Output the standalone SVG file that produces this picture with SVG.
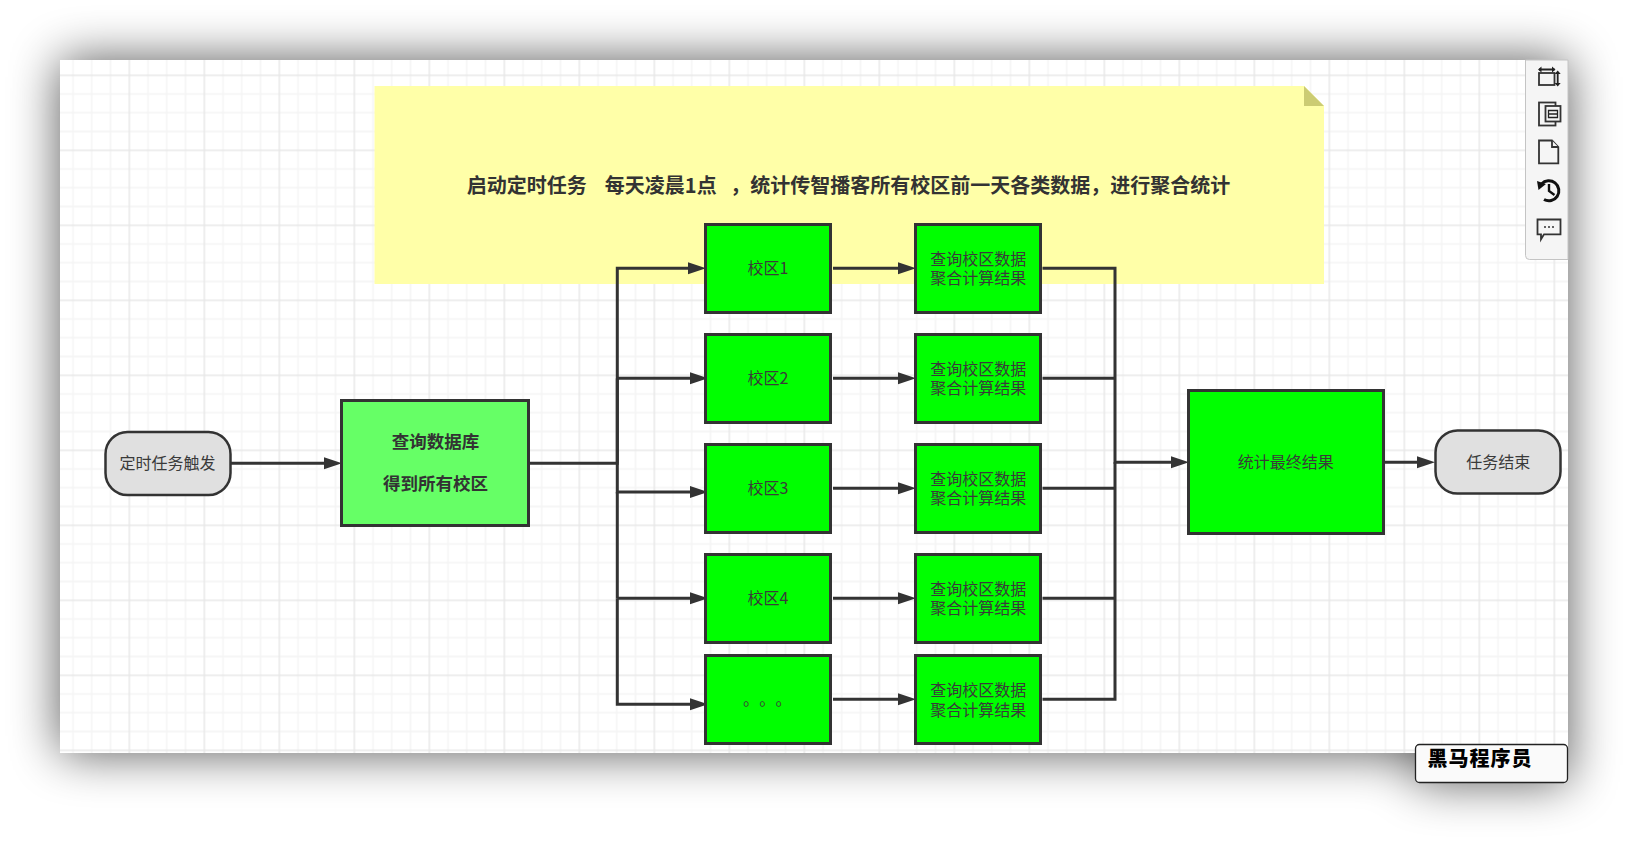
<svg xmlns="http://www.w3.org/2000/svg" width="1628" height="843" viewBox="0 0 1628 843">
<style>
text{font-family:"Noto Sans CJK SC","Liberation Sans",sans-serif;fill:#3a3a3a;text-anchor:middle;dominant-baseline:central;font-size:16px}
.b{font-weight:700;fill:#333}
.box{stroke:#333;stroke-width:3;fill:#0f0}
.term{stroke:#333;stroke-width:2.5;fill:#e0e0e0}
.cn{fill:none;stroke:#333;stroke-width:3;marker-end:url(#ah)}
.ln{fill:none;stroke:#333;stroke-width:3}
.ic{fill:#f5f5f5;stroke:#333;stroke-width:1.8}
</style>
<defs>
<filter id="blur" filterUnits="userSpaceOnUse" x="0" y="0" width="1628" height="843"><feGaussianBlur stdDeviation="25"/></filter>
<marker id="ah" markerUnits="userSpaceOnUse" markerWidth="19" markerHeight="14" refX="11" refY="7" orient="auto"><path d="M0,1L18,7L0,13z" fill="#333"/></marker>
<pattern id="grid" patternUnits="userSpaceOnUse" x="128.5" y="74.5" width="75" height="75">
<g stroke="#f4f4f4" stroke-width="1.5"><path d="M19.55,0V75M38.3,0V75M57.05,0V75M0,19.55H75M0,38.3H75M0,57.05H75"/></g>
<g stroke="#e8e8e8" stroke-width="1.5"><path d="M.8,0V75M0,.8H75"/></g>
</pattern>
</defs>
<rect width="1628" height="843" fill="#fff"/>
<g id="shadow" filter="url(#blur)" opacity=".66"><rect x="60" y="60" width="1508" height="693"/><rect x="1415" y="744" width="153" height="38"/></g>
<rect id="canvas" x="60" y="60" width="1508" height="693" fill="#fff"/>
<rect x="60" y="60" width="1508" height="693" fill="url(#grid)"/>
<g id="note">
<path d="M374.5,86H1304L1324,106V284H374.5z" fill="#ffffa8"/>
<path d="M1304,86L1324,106H1304z" fill="#cccc73"/>
<text class="b" x="848.5" y="184" style="font-size:20px;white-space:pre" xml:space="preserve">启动定时任务    每天凌晨1点   ，统计传智播客所有校区前一天各类数据，进行聚合统计</text>
</g>
<g id="connectors">
<path class="cn" d="M231,463.3H335"/>
<path class="cn" d="M530,463.3H617.3V268.3H699"/>
<path class="ln" d="M617.3,463.3V378.3"/>
<path class="cn" d="M617.3,378.3H701"/>
<path class="cn" d="M617.3,463.3V492H701"/>
<path class="ln" d="M617.3,492V598.3"/>
<path class="cn" d="M617.3,598.3H701"/>
<path class="cn" d="M617.3,598.3V704.3H701"/>
<path class="cn" d="M833,268.3H909"/>
<path class="cn" d="M833,378.3H909"/>
<path class="cn" d="M833,488.3H909"/>
<path class="cn" d="M833,598.3H909"/>
<path class="cn" d="M833,699.3H909"/>
<path class="cn" d="M1042.5,268.3H1115V462.3H1182"/>
<path class="ln" d="M1042.5,378.3H1115"/>
<path class="ln" d="M1042.5,488.3H1115"/>
<path class="ln" d="M1042.5,598.3H1115"/>
<path class="ln" d="M1042.5,699.3H1115V462.3"/>
<path class="cn" d="M1385,462.3H1428"/>
</g>
<g id="start"><rect class="term" x="105.5" y="432" width="125" height="63" rx="22"/><text x="167.5" y="461.5">定时任务触发</text></g>
<g id="query"><rect class="box" x="341.5" y="400.5" width="187" height="125" style="fill:#66ff66"/><text class="b" x="435.5" y="440" style="font-size:17.5px">查询数据库</text><text class="b" x="435.5" y="482.5" style="font-size:17.5px">得到所有校区</text></g>
<g id="campus1"><rect class="box" x="705.5" y="224.5" width="125" height="88"/><text x="768" y="266.5">校区1</text></g>
<g id="campus2"><rect class="box" x="705.5" y="334.5" width="125" height="88"/><text x="768" y="376.5">校区2</text></g>
<g id="campus3"><rect class="box" x="705.5" y="444.5" width="125" height="88"/><text x="768" y="486.5">校区3</text></g>
<g id="campus4"><rect class="box" x="705.5" y="554.5" width="125" height="88"/><text x="768" y="596.5">校区4</text></g>
<g id="campus5"><rect class="box" x="705.5" y="655.5" width="125" height="88"/><text x="743 759.2 775.4" y="697.5" style="text-anchor:start">。。。</text></g>
<g id="calc1"><rect class="box" x="915.5" y="224.5" width="125" height="88"/><text><tspan x="978.3" y="257.5">查询校区数据</tspan><tspan x="978.3" y="277">聚合计算结果</tspan></text></g>
<g id="calc2"><rect class="box" x="915.5" y="334.5" width="125" height="88"/><text><tspan x="978.3" y="367.5">查询校区数据</tspan><tspan x="978.3" y="387">聚合计算结果</tspan></text></g>
<g id="calc3"><rect class="box" x="915.5" y="444.5" width="125" height="88"/><text><tspan x="978.3" y="477.5">查询校区数据</tspan><tspan x="978.3" y="497">聚合计算结果</tspan></text></g>
<g id="calc4"><rect class="box" x="915.5" y="554.5" width="125" height="88"/><text><tspan x="978.3" y="587.5">查询校区数据</tspan><tspan x="978.3" y="607">聚合计算结果</tspan></text></g>
<g id="calc5"><rect class="box" x="915.5" y="655.5" width="125" height="88"/><text><tspan x="978.3" y="689">查询校区数据</tspan><tspan x="978.3" y="709">聚合计算结果</tspan></text></g>
<g id="final"><rect class="box" x="1188.5" y="390.5" width="195" height="143"/><text x="1285.8" y="460.5">统计最终结果</text></g>
<g id="end"><rect class="term" x="1435.5" y="430.5" width="125" height="63" rx="22"/><text x="1498.3" y="460.5">任务结束</text></g>
<g id="toolbar">
<path d="M1525.5,60V255.5Q1525.5,259.5 1529.5,259.5H1568V60z" fill="#f5f5f5" stroke="#c4c4c4"/>
<g id="icon-resize"><rect class="ic" x="1539" y="73" width="15.5" height="12"/><path d="M1539,69.5H1554.5M1557.7,72V85" fill="none" stroke="#222" stroke-width="1.8"/><path d="M1538,69.5l3.5,-3v6zM1555.5,69.5l-3.5,-3v6zM1557.7,70.5l-3,3.5h6zM1557.7,86.5l-3,-3.5h6z" fill="#222"/></g>
<g id="icon-pages"><rect class="ic" x="1539" y="102.5" width="16.5" height="23"/><rect class="ic" x="1545.5" y="106" width="15" height="15.5"/><path d="M1548.5,110.5h9v3.5h-9zM1548.5,114h9v3.5h-9z" fill="none" stroke="#222" stroke-width="1.3"/></g>
<g id="icon-page"><path class="ic" d="M1539,140.5H1552L1558.3,147V163.3H1539z"/><path class="ic" d="M1552,140.5V147H1558.3"/></g>
<g id="icon-history"><path d="M1541.5,184A10,10 0 1 1 1544,199.5" fill="none" stroke="#111" stroke-width="3"/><path d="M1537,181L1546,184L1538.5,190z" fill="#111"/><path d="M1549,184V191L1554.5,195" fill="none" stroke="#111" stroke-width="2.4"/></g>
<g id="icon-comment"><path class="ic" d="M1537.5,219.5H1560.5V234.3H1544L1541,239.3V234.3H1537.5z"/><path d="M1544,227h2M1548,227h2M1552,227h2" stroke="#333" stroke-width="1.6"/></g>
</g>
<g id="label"><rect x="1415.5" y="744.5" width="152" height="38" rx="4" fill="#fafafa" stroke="#222" stroke-width="1.3"/><text class="b" x="1480" y="757.5" style="font-size:20px;fill:#000;font-weight:900;letter-spacing:1px">黑马程序员</text></g>
</svg>
